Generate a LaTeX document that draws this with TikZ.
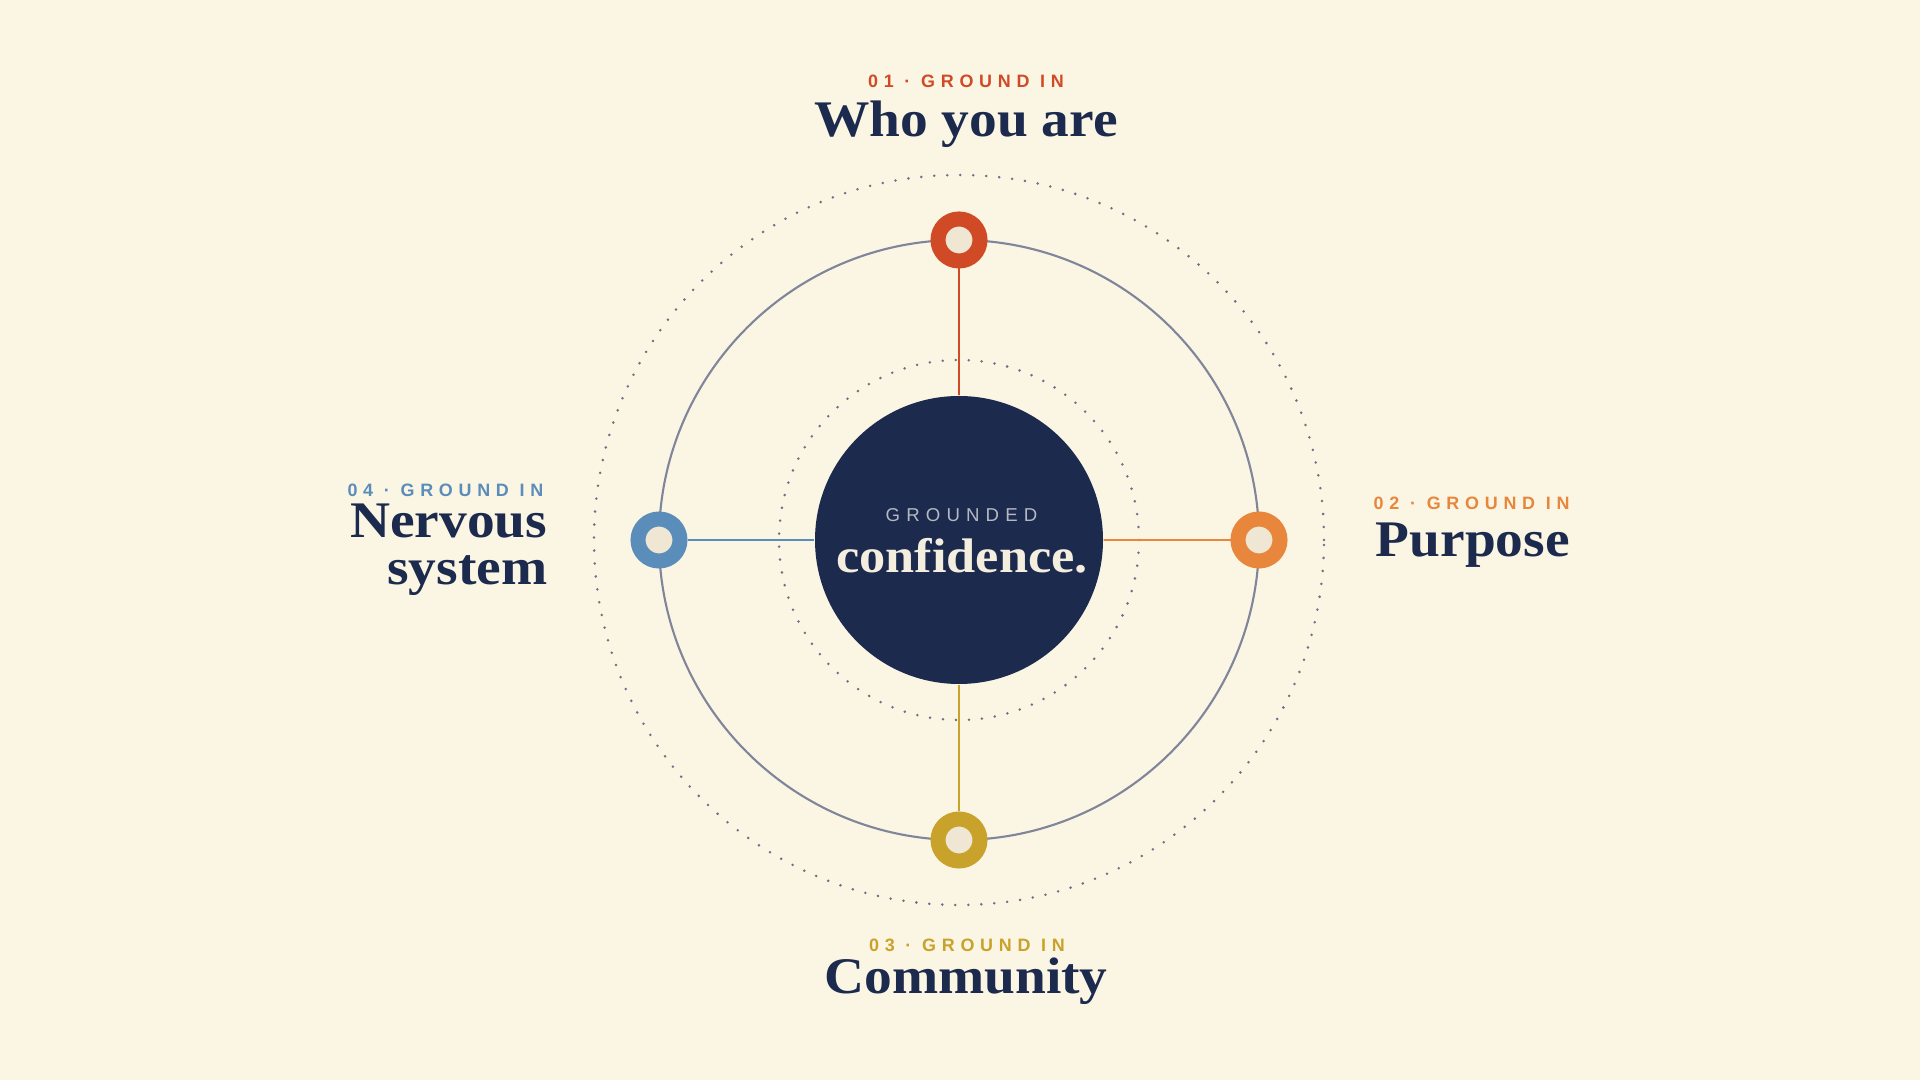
\documentclass[tikz,border=0pt]{standalone}
\usepackage{fontspec}
\setmainfont{Liberation Serif}
\newfontfamily\kickerfont[LetterSpace=32]{Liberation Sans}
\newfontfamily\coresmallfont[LetterSpace=33]{Liberation Sans}
\newfontfamily\titlefont[FakeStretch=1.08]{Liberation Serif}
\usetikzlibrary{positioning}

\definecolor{bgcream}{HTML}{FBF5E4}
\definecolor{navy}{HTML}{1C2A4E}
\definecolor{rustred}{HTML}{D14A26}
\definecolor{tangerine}{HTML}{E8873B}
\definecolor{mustard}{HTML}{C9A22B}
\definecolor{steelblue}{HTML}{5B8DBB}
\definecolor{ringfill}{HTML}{F0E6D4}
\definecolor{orbitgray}{HTML}{80859A}
\definecolor{dotgray}{HTML}{6B7086}
\definecolor{softgray}{HTML}{B5B8C2}
\definecolor{paleink}{HTML}{F4EEDF}

\tikzset{
  orbit/.style={draw=orbitgray, line width=0.6pt},
  dotorbit/.style={draw=dotgray, line width=0.8pt, line cap=round, dash pattern=on 0pt off 3.7pt},
  spoke/.style={line width=0.65pt},
  ringnode/.style={circle, draw=#1, fill=ringfill, line width=0.15cm, minimum size=0.42cm, inner sep=0pt},
  kicker/.style={text=#1, font=\kickerfont\bfseries\fontsize{5.1}{6}\selectfont, inner sep=0pt},
  heading/.style={text=navy, font=\titlefont\bfseries\fontsize{14.6}{18}\selectfont, inner sep=0pt}
}

\begin{document}
\begin{tikzpicture}
		%%%%% BACKGROUND %%%%%
		\fill[bgcream] (0, 0) rectangle (19.2, 10.8);
		\useasboundingbox (0, 0) rectangle (19.2, 10.8);
		
		\coordinate (c) at (9.59, 5.40);
		
		%%%%% ORBITS %%%%%
		\draw[dotorbit] (c) circle (3.65);
		\draw[dotorbit] (c) circle (1.80);
		\draw[orbit] (c) circle (3.00);
		
		%%%%% CORE AND RINGS %%%%%
		\node[circle, fill=navy, minimum size=2.88cm, inner sep=0pt] (core) at (c) {};
		\node[ringnode=rustred] (who) at (9.59, 8.40) {};
		\node[ringnode=tangerine] (purpose) at (12.59, 5.40) {};
		\node[ringnode=mustard] (community) at (9.59, 2.40) {};
		\node[ringnode=steelblue] (nervous) at (6.59, 5.40) {};
		
		\draw[spoke, rustred] (core) -- (who);
		\draw[spoke, tangerine] (core) -- (purpose);
		\draw[spoke, mustard] (core) -- (community);
		\draw[spoke, steelblue] (core) -- (nervous);
		
		\node[anchor=base, text=softgray, font=\coresmallfont\fontsize{5.3}{6}\selectfont, inner sep=0pt] (grounded) at (9.615, 5.58) {GROUNDED};
		\node[anchor=base, text=paleink, font=\titlefont\bfseries\fontsize{13.8}{17}\selectfont, inner sep=0pt] (confidence) at (9.62, 5.07) {confidence.};
		
		%%%%% LABELS %%%%%
		\node[kicker=rustred, anchor=base] (whokicker) at (9.66, 9.92) {01 · GROUND IN};
		\node[heading, anchor=base] (whotitle) at (9.66, 9.43) {Who you are};
		
		\node[kicker=tangerine, anchor=base west] (purposekicker) at (13.73, 5.70) {02 · GROUND IN};
		\node[heading, anchor=base west] (purposetitle) at (13.75, 5.23) {Purpose};
		
		\node[kicker=mustard, anchor=base] (communitykicker) at (9.67, 1.28) {03 · GROUND IN};
		\node[heading, anchor=base] (communitytitle) at (9.66, 0.86) {Community};
		
		\node[kicker=steelblue, anchor=base east] (nervouskicker) at (5.44, 5.83) {04 · GROUND IN};
		\node[heading, anchor=base east] (nervoustitle) at (5.48, 5.42) {Nervous};
		\node[heading, anchor=base east] (systemtitle) at (5.48, 4.95) {system};
	\end{tikzpicture}
\end{document}
